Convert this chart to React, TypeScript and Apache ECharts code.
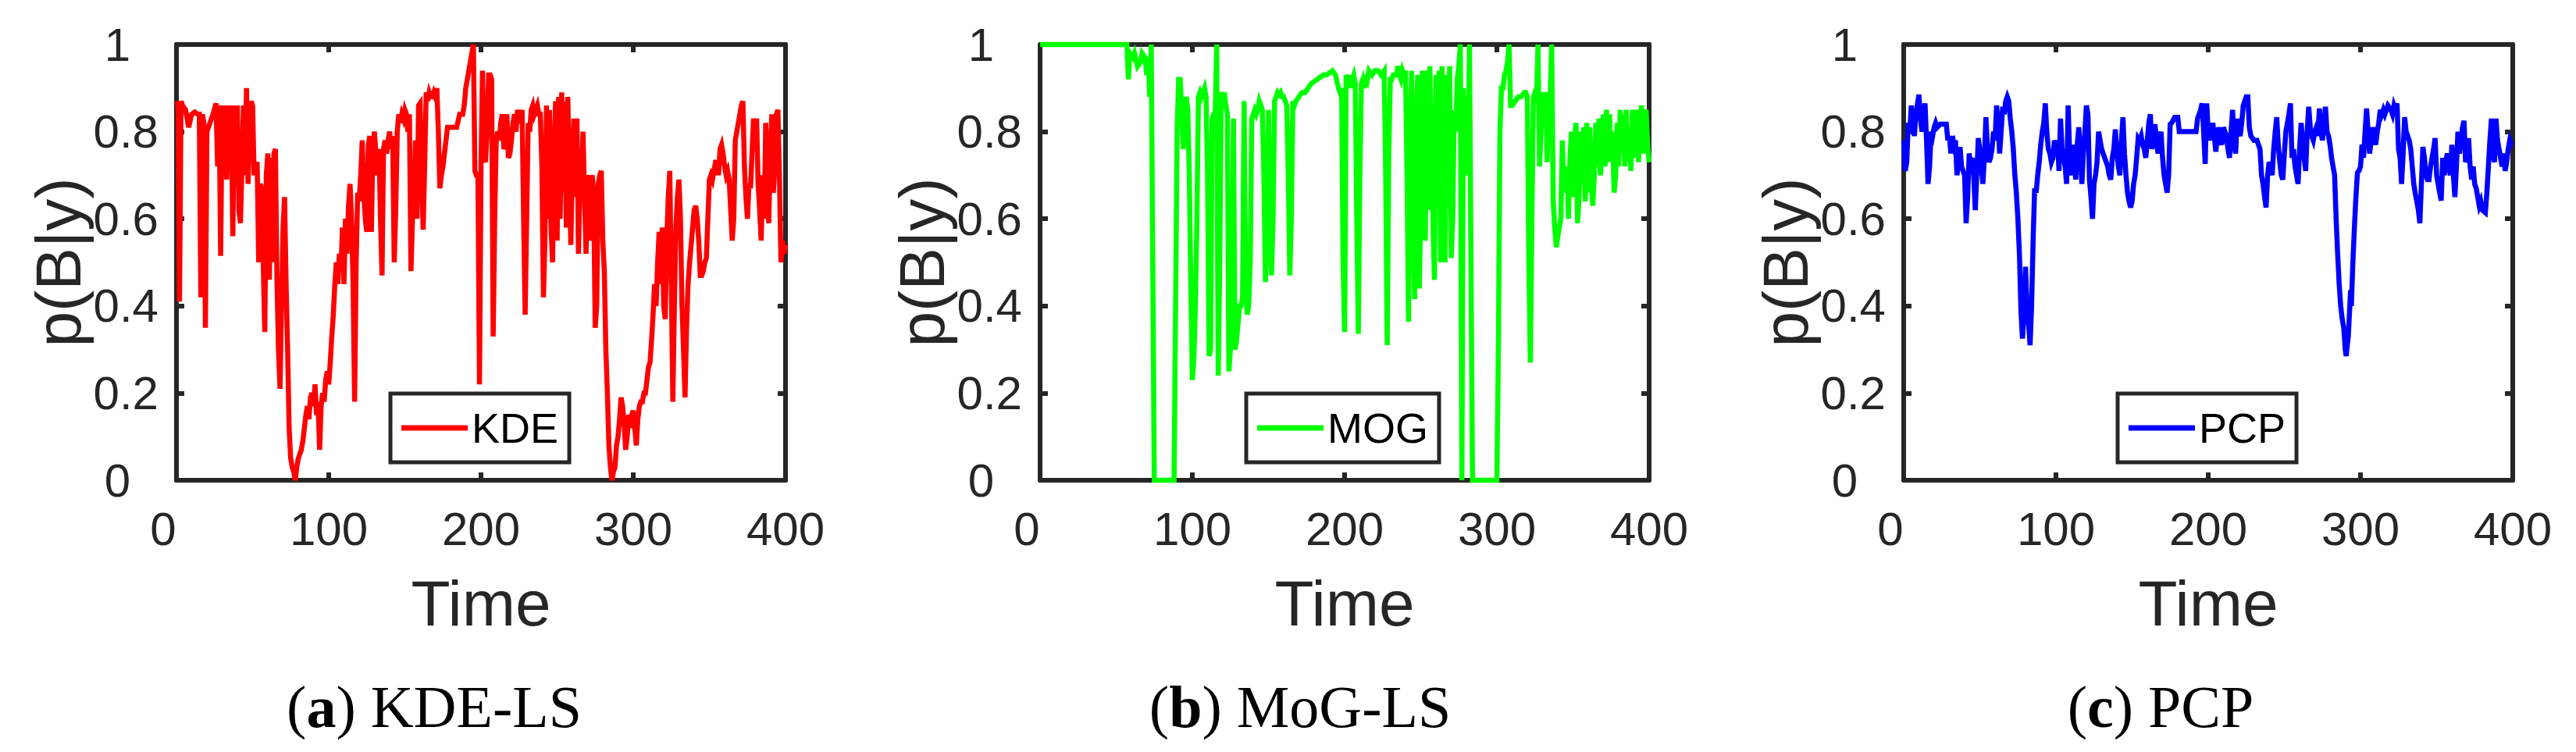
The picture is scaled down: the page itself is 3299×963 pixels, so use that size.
import React, { useEffect, useRef } from 'react';
import * as echarts from 'echarts';

const xTickValues = [0, 100, 200, 300, 400];
const yTickValues = [0, 0.2, 0.4, 0.6, 0.8, 1];
const legendNames = ['KDE', 'MOG', 'PCP'];
const captionLetters = ['a', 'b', 'c'];
const captionTitles = ['KDE-LS', 'MoG-LS', 'PCP'];
const seriesColors = ['#ff0000', '#00ff00', '#0000ff'];
const xAxisTitle = 'Time';
const yAxisTitle = 'p(B|y)';

const kdePoints = [
  [0,0.87],[1,0.86],[2,0.41],[3,0.87],[4,0.86],[6,0.85],[8,0.81],[10,0.84],[12,0.845],[14,0.84],[15,0.84],[16,0.42],[17,0.84],[18,0.82],[19,0.35],[20,0.80],[22,0.82],[24,0.84],[26,0.865],[27,0.72],[28,0.86],[29,0.515],[30,0.86],[31,0.70],[32,0.86],[33,0.69],[34,0.86],[35,0.72],[36,0.86],[37,0.56],[38,0.86],[39,0.70],[40,0.86],[41,0.62],[42,0.59],[43,0.72],[44,0.86],[45,0.70],[46,0.90],[47,0.68],[48,0.80],[49,0.87],[50,0.86],[51,0.70],[52,0.72],[53,0.73],[54,0.50],[55,0.68],[56,0.67],[57,0.50],[58,0.34],[59,0.70],[60,0.75],[61,0.46],[62,0.74],[63,0.50],[64,0.75],[65,0.76],[66,0.46],[67,0.30],[68,0.21],[69,0.40],[70,0.58],[71,0.65],[72,0.45],[73,0.30],[74,0.12],[75,0.05],[76,0.03],[77,0.02],[78,0.0],[79,0.03],[80,0.05],[81,0.06],[82,0.07],[83,0.09],[84,0.12],[85,0.15],[86,0.17],[87,0.14],[88,0.19],[89,0.20],[90,0.17],[91,0.22],[92,0.15],[93,0.18],[94,0.07],[95,0.17],[96,0.20],[97,0.18],[98,0.23],[99,0.25],[100,0.22],[101,0.27],[102,0.33],[103,0.38],[104,0.45],[105,0.50],[106,0.45],[107,0.52],[108,0.48],[109,0.58],[110,0.45],[111,0.60],[112,0.52],[113,0.63],[114,0.68],[115,0.60],[116,0.45],[117,0.18],[118,0.50],[119,0.66],[120,0.64],[121,0.70],[122,0.78],[123,0.66],[124,0.60],[125,0.57],[126,0.77],[127,0.79],[128,0.57],[129,0.76],[130,0.80],[131,0.75],[132,0.70],[133,0.76],[134,0.60],[135,0.47],[136,0.76],[137,0.78],[138,0.75],[139,0.78],[140,0.80],[141,0.76],[142,0.79],[143,0.50],[144,0.62],[145,0.80],[146,0.84],[147,0.82],[148,0.84],[149,0.83],[150,0.85],[151,0.84],[152,0.80],[153,0.84],[154,0.48],[155,0.60],[156,0.65],[157,0.78],[158,0.60],[159,0.86],[160,0.865],[161,0.70],[162,0.575],[163,0.72],[164,0.89],[165,0.87],[166,0.89],[167,0.88],[168,0.88],[169,0.89],[170,0.88],[171,0.90],[172,0.80],[173,0.67],[174,0.70],[175,0.72],[176,0.75],[177,0.78],[178,0.81],[180,0.81],[182,0.81],[184,0.81],[186,0.84],[188,0.84],[189,0.86],[190,0.90],[192,0.94],[194,0.98],[195,1.0],[196,0.71],[197,0.70],[198,0.70],[199,0.22],[200,0.72],[201,0.94],[202,0.74],[203,0.73],[204,0.80],[205,0.93],[206,0.93],[207,0.92],[208,0.33],[209,0.60],[210,0.78],[211,0.80],[212,0.78],[213,0.82],[214,0.84],[215,0.76],[216,0.77],[217,0.84],[218,0.74],[219,0.75],[220,0.78],[221,0.82],[222,0.84],[223,0.80],[224,0.85],[225,0.83],[226,0.82],[227,0.85],[228,0.60],[229,0.38],[230,0.60],[231,0.82],[232,0.80],[233,0.85],[234,0.86],[235,0.84],[236,0.85],[237,0.86],[238,0.84],[239,0.84],[240,0.72],[241,0.42],[242,0.55],[243,0.86],[244,0.60],[245,0.85],[246,0.58],[247,0.50],[248,0.75],[249,0.87],[250,0.55],[251,0.88],[252,0.60],[253,0.89],[254,0.66],[255,0.87],[256,0.58],[257,0.88],[258,0.70],[259,0.54],[260,0.72],[261,0.83],[262,0.65],[263,0.83],[264,0.52],[265,0.68],[266,0.70],[267,0.80],[268,0.65],[269,0.52],[270,0.68],[271,0.70],[272,0.55],[273,0.70],[274,0.66],[275,0.35],[276,0.40],[277,0.68],[278,0.70],[279,0.71],[280,0.55],[281,0.48],[282,0.30],[283,0.20],[284,0.08],[285,0.03],[286,0.0],[287,0.02],[288,0.03],[289,0.08],[290,0.10],[291,0.14],[292,0.19],[293,0.17],[294,0.13],[295,0.07],[296,0.10],[297,0.15],[298,0.12],[299,0.15],[300,0.16],[301,0.12],[302,0.08],[303,0.14],[304,0.17],[305,0.18],[306,0.18],[307,0.20],[308,0.20],[309,0.23],[310,0.26],[311,0.27],[312,0.32],[313,0.38],[314,0.45],[315,0.40],[316,0.50],[317,0.57],[318,0.45],[319,0.58],[320,0.40],[321,0.37],[322,0.55],[323,0.65],[324,0.71],[325,0.45],[326,0.18],[327,0.40],[328,0.58],[329,0.65],[330,0.69],[331,0.60],[332,0.40],[333,0.30],[334,0.19],[335,0.35],[336,0.45],[337,0.50],[338,0.54],[339,0.58],[340,0.62],[341,0.63],[342,0.60],[343,0.55],[344,0.47],[345,0.47],[346,0.48],[347,0.50],[348,0.51],[349,0.60],[350,0.69],[351,0.70],[352,0.69],[353,0.71],[354,0.73],[355,0.73],[356,0.70],[357,0.76],[358,0.77],[359,0.75],[360,0.72],[361,0.70],[362,0.71],[363,0.69],[364,0.62],[365,0.55],[366,0.60],[367,0.78],[368,0.80],[369,0.82],[370,0.84],[371,0.86],[372,0.87],[373,0.72],[374,0.65],[375,0.60],[376,0.68],[377,0.67],[378,0.75],[379,0.83],[380,0.80],[381,0.83],[382,0.68],[383,0.62],[384,0.55],[385,0.70],[386,0.60],[387,0.82],[388,0.70],[389,0.59],[390,0.75],[391,0.84],[392,0.66],[393,0.72],[394,0.84],[395,0.85],[396,0.70],[397,0.50],[398,0.55],[399,0.52],[400,0.54]
];

const mogPoints = [
  [0,1],[57,1],[58,0.92],[59,0.98],[61,0.97],[62,0.98],[64,0.95],[66,0.96],[67,0.98],[69,0.97],[70,0.93],[71,0.97],[72,0.88],[73,1.0],[74,0.5],[75,0],[88,0],[89,0.4],[90,0.8],[91,0.92],[92,0.92],[93,0.85],[94,0.76],[95,0.80],[96,0.88],[97,0.85],[98,0.70],[99,0.45],[100,0.23],[101,0.28],[102,0.40],[103,0.60],[104,0.88],[105,0.89],[106,0.88],[107,0.89],[108,0.90],[109,0.88],[110,0.70],[111,0.285],[112,0.30],[113,0.83],[114,0.84],[115,0.84],[116,1.0],[116.5,0.6],[117,0.24],[118,0.5],[119,0.89],[120,0.88],[121,0.89],[122,0.86],[123,0.84],[124,0.25],[125,0.30],[126,0.35],[127,0.83],[128,0.30],[129,0.32],[130,0.36],[131,0.40],[132,0.40],[133,0.42],[134,0.87],[135,0.45],[136,0.38],[137,0.40],[138,0.50],[139,0.83],[140,0.84],[141,0.85],[142,0.84],[143,0.85],[144,0.87],[145,0.86],[146,0.85],[147,0.70],[148,0.455],[149,0.55],[150,0.85],[151,0.60],[152,0.47],[153,0.60],[154,0.87],[155,0.88],[156,0.89],[157,0.885],[158,0.89],[159,0.88],[160,0.88],[161,0.87],[162,0.86],[163,0.70],[164,0.47],[165,0.60],[166,0.87],[167,0.86],[168,0.87],[170,0.88],[172,0.89],[174,0.89],[176,0.90],[178,0.91],[180,0.915],[182,0.92],[184,0.925],[186,0.93],[188,0.93],[190,0.935],[192,0.94],[194,0.93],[196,0.90],[197,0.89],[198,0.90],[199,0.50],[200,0.34],[200.5,0.60],[201,0.93],[202,0.92],[203,0.93],[204,0.90],[205,0.92],[206,0.93],[207,0.91],[208,0.60],[209,0.336],[210,0.70],[211,0.91],[212,0.92],[213,0.90],[214,0.93],[215,0.92],[216,0.94],[218,0.93],[220,0.94],[222,0.94],[224,0.93],[226,0.94],[227,0.70],[228,0.31],[229,0.75],[230,0.92],[231,0.92],[232,0.93],[234,0.93],[235,0.95],[236,0.93],[237,0.92],[238,0.94],[239,0.93],[240,0.94],[241,0.70],[242,0.364],[243,0.75],[244,0.94],[245,0.60],[246,0.416],[247,0.80],[248,0.93],[249,0.44],[250,0.60],[251,0.94],[252,0.80],[253,0.55],[254,0.94],[255,0.62],[256,0.95],[257,0.75],[258,0.60],[259,0.46],[260,0.93],[261,0.70],[262,0.94],[263,0.50],[264,0.95],[265,0.60],[266,0.50],[267,0.93],[268,0.80],[269,0.95],[270,0.51],[271,0.60],[272,0.85],[273,0.80],[274,0.92],[275,0.95],[276,1.0],[277,0],[278,0.90],[279,0.78],[280,0.85],[281,0.70],[282,1.0],[283,0.5],[284,0],[300,0],[301,0.3],[302,0.8],[303,0.9],[304,0.90],[305,0.93],[306,0.94],[307,0.96],[308,1.0],[309,0.86],[310,0.86],[312,0.87],[314,0.88],[316,0.88],[318,0.89],[319,0.89],[320,0.88],[321,0.50],[322,0.27],[323,0.60],[324,0.88],[325,0.89],[326,0.87],[327,1.0],[328,0.72],[329,0.80],[330,0.89],[331,0.88],[332,0.89],[333,0.73],[334,0.89],[335,0.88],[336,1.0],[337,0.64],[338,0.58],[339,0.535],[340,0.56],[341,0.58],[342,0.60],[343,0.78],[344,0.66],[345,0.70],[346,0.72],[347,0.60],[348,0.74],[349,0.80],[350,0.65],[351,0.79],[352,0.82],[353,0.59],[354,0.65],[355,0.80],[356,0.68],[357,0.81],[358,0.64],[359,0.82],[360,0.66],[361,0.81],[362,0.68],[363,0.63],[364,0.70],[365,0.82],[366,0.72],[367,0.83],[368,0.70],[369,0.75],[370,0.84],[371,0.72],[372,0.85],[373,0.73],[374,0.84],[375,0.74],[376,0.80],[377,0.66],[378,0.70],[379,0.82],[380,0.72],[381,0.85],[382,0.75],[383,0.84],[384,0.72],[385,0.85],[386,0.73],[387,0.80],[388,0.71],[389,0.85],[390,0.74],[391,0.78],[392,0.85],[393,0.73],[394,0.82],[395,0.86],[396,0.75],[397,0.84],[398,0.85],[399,0.77],[400,0.73]
];

const pcpPoints = [
  [0,0.78],[1,0.71],[2,0.73],[3,0.82],[4,0.80],[5,0.86],[6,0.82],[7,0.79],[8,0.84],[10,0.885],[11,0.83],[12,0.80],[13,0.84],[14,0.865],[15,0.78],[16,0.68],[17,0.72],[18,0.80],[19,0.79],[20,0.81],[21,0.82],[22,0.81],[24,0.817],[26,0.817],[28,0.817],[29,0.78],[30,0.79],[31,0.75],[32,0.79],[33,0.77],[34,0.78],[35,0.70],[36,0.73],[37,0.765],[38,0.72],[39,0.71],[40,0.70],[41,0.59],[42,0.65],[43,0.75],[44,0.72],[45,0.74],[46,0.70],[47,0.62],[48,0.70],[49,0.785],[50,0.76],[51,0.72],[52,0.68],[53,0.74],[54,0.833],[55,0.76],[56,0.73],[57,0.74],[58,0.76],[59,0.80],[60,0.78],[61,0.86],[62,0.82],[63,0.75],[64,0.80],[65,0.857],[66,0.84],[67,0.87],[68,0.88],[69,0.87],[70,0.83],[71,0.80],[72,0.76],[73,0.70],[74,0.66],[75,0.60],[76,0.52],[77,0.39],[78,0.325],[79,0.38],[80,0.49],[81,0.40],[82,0.36],[83,0.31],[84,0.40],[85,0.55],[86,0.67],[87,0.66],[88,0.70],[89,0.73],[90,0.77],[91,0.80],[92,0.82],[93,0.865],[94,0.80],[95,0.76],[96,0.75],[97,0.73],[98,0.74],[99,0.78],[100,0.76],[101,0.78],[102,0.71],[103,0.83],[104,0.76],[105,0.74],[106,0.72],[107,0.68],[108,0.86],[109,0.75],[110,0.70],[111,0.77],[112,0.73],[113,0.69],[114,0.77],[115,0.81],[116,0.75],[117,0.68],[118,0.75],[119,0.80],[120,0.86],[121,0.84],[122,0.69],[123,0.65],[124,0.60],[125,0.68],[126,0.70],[127,0.73],[128,0.80],[129,0.78],[130,0.76],[131,0.75],[132,0.74],[133,0.73],[134,0.72],[135,0.70],[136,0.69],[137,0.74],[138,0.76],[139,0.805],[140,0.75],[141,0.72],[142,0.70],[143,0.78],[144,0.833],[145,0.75],[146,0.70],[147,0.66],[148,0.64],[149,0.626],[150,0.64],[151,0.68],[152,0.70],[153,0.74],[154,0.785],[155,0.78],[156,0.79],[157,0.77],[158,0.76],[159,0.74],[160,0.78],[161,0.82],[162,0.84],[163,0.76],[164,0.79],[165,0.817],[166,0.78],[167,0.75],[168,0.78],[169,0.80],[170,0.74],[171,0.70],[172,0.68],[173,0.66],[174,0.70],[175,0.817],[176,0.82],[178,0.833],[180,0.833],[181,0.80],[183,0.80],[186,0.80],[189,0.80],[192,0.80],[193,0.83],[194,0.84],[195,0.85],[196,0.865],[197,0.80],[198,0.726],[199,0.865],[200,0.80],[201,0.78],[202,0.80],[203,0.82],[204,0.79],[205,0.754],[206,0.79],[207,0.81],[208,0.78],[209,0.77],[210,0.81],[211,0.80],[212,0.79],[213,0.76],[214,0.74],[215,0.80],[216,0.85],[217,0.77],[218,0.75],[219,0.83],[220,0.80],[221,0.79],[222,0.82],[223,0.86],[224,0.87],[225,0.88],[226,0.88],[227,0.81],[228,0.79],[229,0.785],[230,0.78],[232,0.78],[233,0.77],[234,0.76],[235,0.70],[236,0.68],[237,0.65],[238,0.626],[239,0.70],[240,0.73],[241,0.72],[242,0.70],[243,0.76],[244,0.80],[245,0.833],[246,0.77],[247,0.73],[248,0.70],[249,0.69],[250,0.75],[251,0.80],[252,0.82],[253,0.84],[254,0.865],[255,0.74],[256,0.76],[257,0.72],[258,0.70],[259,0.68],[260,0.76],[261,0.82],[262,0.78],[263,0.74],[264,0.71],[265,0.80],[266,0.857],[267,0.81],[268,0.79],[269,0.78],[270,0.80],[271,0.81],[272,0.79],[273,0.853],[274,0.80],[275,0.78],[276,0.82],[277,0.857],[278,0.80],[279,0.79],[280,0.77],[281,0.74],[282,0.72],[283,0.70],[284,0.60],[285,0.52],[286,0.45],[287,0.40],[288,0.37],[289,0.35],[290,0.30],[290.6,0.285],[291,0.30],[292,0.33],[293,0.40],[293.5,0.436],[294,0.40],[295,0.50],[296,0.58],[297,0.65],[298,0.706],[299,0.71],[300,0.72],[301,0.77],[302,0.74],[303,0.80],[304,0.853],[305,0.80],[306,0.75],[307,0.78],[308,0.81],[309,0.79],[310,0.77],[311,0.80],[312,0.82],[313,0.85],[314,0.84],[315,0.85],[316,0.84],[318,0.86],[320,0.85],[321,0.84],[322,0.86],[323,0.85],[324,0.865],[325,0.76],[326,0.74],[327,0.68],[328,0.75],[329,0.833],[330,0.80],[331,0.79],[332,0.78],[333,0.76],[334,0.72],[335,0.68],[336,0.658],[337,0.64],[338,0.62],[339,0.59],[340,0.68],[341,0.765],[342,0.74],[343,0.70],[344,0.69],[345,0.69],[346,0.72],[347,0.74],[348,0.76],[349,0.785],[350,0.70],[351,0.68],[352,0.66],[353,0.642],[354,0.74],[355,0.70],[356,0.73],[357,0.75],[358,0.72],[359,0.70],[360,0.77],[361,0.70],[362,0.65],[363,0.72],[364,0.80],[365,0.75],[366,0.78],[367,0.81],[368,0.825],[369,0.73],[370,0.74],[371,0.785],[372,0.72],[373,0.69],[374,0.72],[375,0.68],[376,0.67],[377,0.65],[378,0.63],[379,0.64],[380,0.62],[382,0.614],[383,0.66],[384,0.72],[385,0.78],[386,0.83],[387,0.75],[388,0.73],[389,0.83],[390,0.78],[391,0.76],[392,0.74],[393,0.72],[394,0.75],[395,0.71],[396,0.73],[397,0.76],[398,0.78],[399,0.77],[400,0.77]
];

const allPoints = [kdePoints, mogPoints, pcpPoints];

const FONT = "'Liberation Sans', Arial, Helvetica, sans-serif";
const SERIF = "'Liberation Serif', 'Times New Roman', serif";
const AX = '#262626';
const GRID_LEFTS = [226, 1332, 2438];
const GRID_TOP = 57;
const GRID_W = 780;
const GRID_H = 558;
const LEGEND_WIDTHS = [233, 252, 233];
const CAPTION_X = [556, 1665, 2767];

function fmtNum(v: number) {
  return String(Math.round(v * 10) / 10);
}

export default function App() {
  const ref = useRef<HTMLDivElement>(null);
  useEffect(() => {
    if (!ref.current) return;
    const chart = echarts.init(ref.current, undefined, { renderer: 'svg' });
    const axisLine = { show: true, onZero: false, lineStyle: { color: AX, width: 6 } };
    const axisTick = { show: true, inside: true, length: 10, lineStyle: { color: AX, width: 6 } };
    const grid: any[] = [];
    const xAxis: any[] = [];
    const yAxis: any[] = [];
    const series: any[] = [];
    const legend: any[] = [];
    const graphic: any[] = [];
    const n = legendNames.length;
    for (let i = 0; i < n; i++) {
      grid.push({ left: GRID_LEFTS[i], top: GRID_TOP, width: GRID_W, height: GRID_H, containLabel: false });
    }
    for (let i = 0; i < n; i++) {
      xAxis.push({
        gridIndex: i, type: 'value', position: 'bottom', min: xTickValues[0], max: xTickValues[xTickValues.length - 1],
        interval: xTickValues[1] - xTickValues[0],
        axisLine, axisTick, splitLine: { show: false },
        axisLabel: {
          margin: 32, fontSize: 60, color: AX, fontFamily: FONT,
          formatter: (v: number) => (v === 0 ? '{z|0}' : String(v)),
          rich: { z: { fontSize: 60, color: AX, fontFamily: FONT, padding: [0, 34, 0, 0] } },
        },
        name: xAxisTitle, nameLocation: 'middle', nameGap: 116,
        nameTextStyle: { fontSize: 82, color: AX, fontFamily: FONT },
      });
    }
    for (let i = 0; i < n; i++) {
      xAxis.push({
        gridIndex: i, type: 'value', position: 'top', min: xTickValues[0], max: xTickValues[xTickValues.length - 1],
        interval: xTickValues[1] - xTickValues[0],
        axisLine, axisTick, splitLine: { show: false }, axisLabel: { show: false },
      });
    }
    for (let i = 0; i < n; i++) {
      yAxis.push({
        gridIndex: i, type: 'value', position: 'left', min: yTickValues[0], max: yTickValues[yTickValues.length - 1],
        interval: 0.2,
        axisLine, axisTick, splitLine: { show: false },
        axisLabel: {
          margin: 23, fontSize: 60, color: AX, fontFamily: FONT,
          formatter: (v: number) => {
            const s = fmtNum(v);
            return s === '0' || s === '1' ? `{z|${s}}` : s;
          },
          rich: { z: { fontSize: 60, color: AX, fontFamily: FONT, padding: [0, 36, 0, 0] } },
        },
        name: yAxisTitle, nameLocation: 'middle', nameGap: 108, nameRotate: 90,
        nameTextStyle: { fontSize: 82, color: AX, fontFamily: FONT },
      });
    }
    for (let i = 0; i < n; i++) {
      yAxis.push({
        gridIndex: i, type: 'value', position: 'right', min: yTickValues[0], max: yTickValues[yTickValues.length - 1],
        interval: 0.2,
        axisLine, axisTick, splitLine: { show: false }, axisLabel: { show: false },
      });
    }
    for (let i = 0; i < n; i++) {
      series.push({
        type: 'line', name: legendNames[i], xAxisIndex: i, yAxisIndex: i,
        data: allPoints[i], showSymbol: false, symbol: 'none', clip: false, z: 3,
        lineStyle: { color: seriesColors[i], width: 6.5, join: 'miter' },
        itemStyle: { color: seriesColors[i] },
      });
      const center = GRID_LEFTS[i] + GRID_W / 2;
      legend.push({
        data: [legendNames[i]], left: Math.round(center - LEGEND_WIDTHS[i] / 2), top: 504,
        orient: 'horizontal', padding: [17, 14, 17, 14], borderColor: AX, borderWidth: 5,
        backgroundColor: '#ffffff', itemWidth: 85, itemHeight: 7, icon: 'rect', itemGap: 0,
        selectedMode: false, textStyle: { fontSize: 54, color: '#000000', fontFamily: FONT },
      });
      graphic.push({
        type: 'text', x: CAPTION_X[i], y: 905, z: 10,
        style: {
          text: `({b|${captionLetters[i]}}) ${captionTitles[i]}`,
          fontSize: 76, fontFamily: SERIF, fill: '#000000', align: 'center', verticalAlign: 'middle',
          rich: { b: { fontSize: 76, fontFamily: SERIF, fontWeight: 'bold', fill: '#000000' } },
        },
      });
    }
    chart.setOption({
      animation: false,
      backgroundColor: '#ffffff',
      grid, xAxis, yAxis, series, legend, graphic,
    });
    return () => chart.dispose();
  }, []);
  return (
    <div
      ref={ref}
      style={{ position: 'fixed', left: 0, top: 0, width: 3299, height: 963, background: '#ffffff' }}
    />
  );
}
